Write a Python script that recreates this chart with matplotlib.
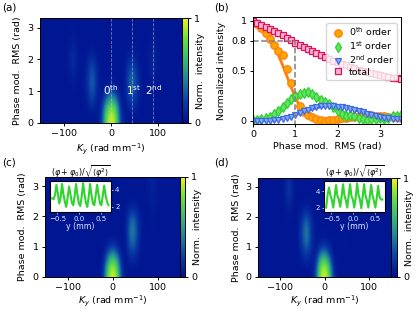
import numpy as np
import matplotlib
matplotlib.use("Agg")
import matplotlib.pyplot as plt
from matplotlib.colors import LinearSegmentedColormap

# ---------- data ----------
ky_step = 10
rms_step = 0.3

# rows: RMS 0 -> 3.3, columns: Ky -150 -> 150 (percent of max)
map_a = [
    [3,3,3,3,3,3, 3,3,3, 3, 3,3,3, 14, 82,100,90,20, 3, 3,3,3, 3, 3,3,3, 3,3,3,3,3],
    [3,3,3,3,3,3, 3,3,3, 3, 3,5,3, 12, 74,96,82,16, 3, 5,5,3, 3, 3,3,3, 3,3,3,3,3],
    [3,3,3,3,3,3, 3,3,3, 3, 6,18,6, 6, 52,76,60,9, 3, 16,14,4, 3, 3,3,3, 3,3,3,3,3],
    [3,3,3,3,3,3, 3,3,3, 3, 9,30,9, 3, 18,38,24,4, 3, 28,24,6, 3, 3,3,3, 3,3,3,3,3],
    [3,3,3,3,3,3, 3,6,3, 3, 11,38,11, 3, 4,8,5,3, 3, 36,30,7, 3, 3,5,3, 3,3,3,3,3],
    [3,3,3,3,3,3, 4,10,4, 3, 10,36,10, 3, 3,3,3,3, 3, 33,28,7, 3, 4,9,3, 3,3,3,3,3],
    [3,3,3,3,3,3, 5,14,5, 3, 8,27,8, 3, 3,3,3,3, 3, 22,18,5, 3, 5,12,4, 3,3,3,3,3],
    [3,3,3,3,3,3, 5,15,5, 3, 5,13,5, 3, 3,3,3,3, 3, 10,9,4, 3, 5,12,4, 3,3,3,3,3],
    [3,3,3,3,3,3, 4,11,4, 3, 3,5,3, 3, 3,3,3,3, 3, 5,5,3, 3, 4,9,3, 3,3,3,3,3],
    [3,3,3,3,3,3, 3,7,3, 3, 3,3,3, 3, 3,3,3,3, 3, 3,3,3, 3, 3,6,3, 3,3,3,3,3],
    [3,3,3,3,3,3, 3,4,3, 3, 3,3,3, 3, 3,3,3,3, 3, 3,3,3, 3, 3,4,3, 3,3,3,3,3],
    [3,3,3,3,3,3, 3,3,3, 3, 3,3,3, 3, 3,3,3,3, 3, 3,3,3, 3, 3,3,3, 3,3,3,3,3],
]
map_c = [
    [3,3,3,3,3,3, 3,3,3, 3, 3,3,3, 14, 82,100,88,18, 3, 3,3,3, 3, 3,3,3, 3,3,3,3,3],
    [3,3,3,3,3,3, 3,3,3, 3, 3,3,3, 10, 72,94,76,13, 3, 4,4,3, 3, 3,3,3, 3,3,3,3,3],
    [3,3,3,3,3,3, 3,3,3, 3, 3,3,3, 5, 46,70,52,7, 3, 12,11,4, 3, 3,3,3, 3,3,3,3,3],
    [3,3,3,3,3,3, 3,3,3, 3, 3,3,3, 3, 16,32,19,4, 3, 24,22,6, 3, 3,3,3, 3,3,3,3,3],
    [3,3,3,3,3,3, 3,4,3, 3, 3,3,3, 3, 5,8,5,3, 3, 36,32,8, 3, 3,3,3, 3,3,3,3,3],
    [3,3,3,3,3,3, 3,5,3, 3, 3,3,3, 3, 3,3,3,3, 3, 42,37,9, 3, 3,4,3, 3,3,3,3,3],
    [3,3,3,3,3,3, 3,5,3, 3, 3,3,3, 3, 3,3,3,3, 3, 38,34,8, 3, 3,5,3, 3,3,3,3,3],
    [3,3,3,3,3,3, 3,4,3, 3, 3,3,3, 3, 3,3,3,3, 3, 22,20,6, 3, 3,6,3, 3,3,3,3,3],
    [3,3,3,3,3,3, 3,3,3, 3, 3,3,3, 3, 3,3,3,3, 3, 7,7,3, 3, 4,8,4, 3,3,3,3,3],
    [3,3,3,3,3,3, 3,3,3, 3, 3,3,3, 3, 3,3,3,3, 3, 3,3,3, 3, 5,9,4, 3,3,3,3,3],
    [3,3,3,3,3,3, 3,3,3, 3, 3,3,3, 3, 3,3,3,3, 3, 3,3,3, 3, 5,10,4, 3,3,3,3,3],
    [3,3,3,3,3,3, 3,3,3, 3, 3,3,3, 3, 3,3,3,3, 3, 3,3,3, 3, 5,9,4, 3,3,3,3,3],
]
map_d = [
    [3,3,3,3,3,3, 3,3,3, 3, 3,3,3, 18, 88,100,82,14, 3, 3,3,3, 3, 3,3,3, 3,3,3,3,3],
    [3,3,3,3,3,3, 3,3,3, 3, 3,4,3, 14, 80,94,72,11, 3, 3,3,3, 3, 3,3,3, 3,3,3,3,3],
    [3,3,3,3,3,3, 3,3,3, 3, 8,14,7, 7, 54,72,42,6, 3, 3,3,3, 3, 3,3,3, 3,3,3,3,3],
    [3,3,3,3,3,3, 3,3,3, 3, 14,28,11, 3, 22,32,15,3, 3, 3,4,3, 3, 3,3,3, 3,3,3,3,3],
    [3,3,3,3,3,3, 3,3,3, 3, 22,42,15, 3, 6,9,5,3, 3, 3,4,3, 3, 3,3,3, 3,3,3,3,3],
    [3,3,3,3,3,3, 3,3,3, 3, 24,46,16, 3, 3,4,3,3, 3, 3,4,3, 3, 3,3,3, 3,3,3,3,3],
    [3,3,3,3,3,3, 3,4,3, 3, 20,38,13, 3, 3,3,3,3, 3, 3,3,3, 3, 3,3,3, 3,3,3,3,3],
    [3,3,3,3,3,3, 3,6,3, 3, 11,22,8, 3, 3,3,3,3, 3, 3,3,3, 3, 3,3,3, 3,3,3,3,3],
    [3,3,3,3,3,3, 4,11,4, 3, 4,7,4, 3, 3,3,3,3, 3, 3,3,3, 3, 3,3,3, 3,3,3,3,3],
    [3,3,3,3,3,3, 5,18,5, 3, 3,3,3, 3, 3,3,3,3, 3, 3,3,3, 3, 3,3,3, 3,3,3,3,3],
    [3,3,3,3,3,3, 5,20,5, 3, 3,3,3, 3, 3,3,3,3, 3, 3,3,3, 3, 3,3,3, 3,3,3,3,3],
    [3,3,3,3,3,3, 4,15,4, 3, 3,3,3, 3, 3,3,3,3, 3, 3,3,3, 3, 3,3,3, 3,3,3,3,3],
]

# panel (b), RMS from 0 to 3.5 in steps of 0.1
rms = [i / 10 for i in range(36)]
order0 = [1.0,.97,.93,.88,.82,.76,.70,.66,.52,.38,.25,.15,.09,.06,.04,.02,.01,.005,.01,.015,.02,.03,.035,.04,.045,.05,.05,.055,.06,.055,.05,.05,.045,.04,.04,.035]
order1 = [.01,.015,.02,.03,.045,.07,.10,.14,.18,.22,.25,.27,.28,.29,.27,.24,.21,.19,.17,.14,.10,.07,.05,.06,.05,.03,.02,.015,.02,.025,.03,.02,.03,.05,.05,.06]
order2 = [0,0,0,.005,.005,.01,.015,.02,.03,.045,.06,.08,.10,.11,.13,.14,.15,.15,.155,.15,.145,.14,.13,.125,.115,.10,.09,.075,.06,.05,.04,.035,.03,.025,.02,.02]
total = [1.0,.98,.96,.94,.92,.90,.88,.86,.83,.81,.78,.76,.74,.72,.70,.68,.66,.64,.62,.605,.59,.575,.56,.545,.53,.515,.50,.49,.48,.47,.46,.45,.445,.435,.43,.42]

fit0 = [1.0,.98,.95,.90,.84,.75,.66,.56,.45,.34,.24,.15,.09,.05,.025,.01,.004,.003,.007,.014,.022,.03,.037,.043,.048,.052,.054,.055,.055,.054,.052,.05,.047,.044,.04,.037]
fit1 = [0,.003,.01,.02,.04,.07,.10,.14,.18,.22,.25,.265,.27,.27,.26,.245,.225,.20,.175,.15,.125,.10,.08,.06,.045,.033,.022,.015,.01,.01,.012,.017,.023,.03,.037,.045]
fit2 = [0,0,.001,.002,.004,.008,.015,.025,.035,.047,.06,.075,.09,.105,.12,.13,.14,.147,.15,.152,.15,.145,.135,.125,.11,.097,.085,.072,.06,.05,.04,.032,.026,.02,.016,.013]

yticks_b = [0, 0.5, 0.8, 1]
yticklabels_b = ["0", "0.5", "0.8", "1"]

# insets, y from -0.62 in steps of 0.032 mm
inset_y = [-0.62 + 0.032 * i for i in range(41)]
inset_c = [3.0,2.9,3.4,4.6,3.6,2.4,3.1,4.7,3.5,2.6,2.0,3.1,4.4,3.5,2.5,2.2,3.3,4.7,3.4,2.4,2.1,3.2,4.8,3.5,2.5,2.0,3.2,4.7,3.4,2.4,2.2,3.4,4.6,3.5,2.4,2.2,3.3,4.5,3.4,2.6,2.2]
inset_d = [2.0,3.6,4.5,3.5,3.0,2.0,3.3,4.8,3.4,3.0,2.1,3.4,4.9,3.5,2.9,2.0,3.5,4.9,3.4,3.0,2.0,3.2,5.0,3.6,3.0,1.9,3.4,4.9,3.5,2.9,2.0,3.3,4.8,3.5,2.8,2.0,3.2,4.7,3.3,3.0,3.0]

# ---------- figure ----------
W, H = 416, 309
fig = plt.figure(figsize=(W / 100, H / 100), dpi=100)
fs = 6.8

cmap = LinearSegmentedColormap.from_list(
    "norm_int", ["#00108f", "#0a3ca8", "#1f7f9e", "#38b878", "#68e040", "#f2f020"])


def box(l, t, r, b):
    return [l / W, 1 - b / H, (r - l) / W, (b - t) / H]


def heat(data, main_box, cbar_box, xpad=2, ypad=4):
    ax = fig.add_axes(box(*main_box))
    arr = np.array(data) / 100
    n_rows, n_cols = arr.shape
    half = ky_step * n_cols / 2
    im = ax.imshow(arr, origin="lower", aspect="auto", cmap=cmap, vmin=0, vmax=1,
                   interpolation="bicubic",
                   extent=[-half, half, -rms_step / 2, rms_step * (n_rows - 0.5)])
    ax.set_xlim(-150, 150)
    ax.set_ylim(0, 3.3)
    ax.set_xticks([-100, 0, 100])
    ax.set_yticks([0, 1, 2, 3])
    ax.tick_params(labelsize=fs, length=2.5, width=0.7, pad=2)
    ax.set_xlabel(r"$K_y$ (rad mm$^{-1}$)", fontsize=fs, labelpad=xpad)
    ax.set_ylabel("Phase mod.  RMS (rad)", fontsize=fs, labelpad=ypad)
    cax = fig.add_axes(box(*cbar_box))
    cb = fig.colorbar(im, cax=cax)
    cb.set_ticks([0, 1])
    cb.set_ticklabels(["0", "1"])
    cax.tick_params(labelsize=fs, length=2.5, width=0.7, pad=2)
    cb.set_label("Norm.  intensity", fontsize=fs, labelpad=-3)
    for a in [ax, cax]:
        for s in a.spines.values():
            s.set_linewidth(0.7)
    return ax


def inset(box_px, yy, ticks_right, ylim):
    ins = fig.add_axes(box(*box_px))
    ins.plot(inset_y, yy, color="#2fd42f", lw=1.5)
    ins.set_xlim(-0.67, 0.72)
    ins.set_ylim(*ylim)
    ins.set_xticks([-0.5, 0, 0.5])
    ins.set_xticklabels(["\u22120.5", "0.0", "0.5"])
    ins.set_yticks([2, 4])
    if ticks_right:
        ins.yaxis.tick_right()
    ins.tick_params(labelsize=5, length=1.5, width=0.5, pad=1.5,
                    colors="white", labelcolor="#dfe6ff")
    ins.set_xlabel("y (mm)", fontsize=5.6, color="#dfe6ff", labelpad=0)
    ins.set_title(r"$(\varphi+\varphi_0)/\sqrt{\langle\varphi^2\rangle}$", fontsize=5.8, pad=2)
    for s in ins.spines.values():
        s.set_linewidth(0.8)
    return ins


# (a)
ax_a = heat(map_a, (40, 18, 182, 123), (182, 18, 188, 123))
for k in [0, 45, 88]:
    ax_a.axvline(k, color="#c8c8d8", lw=0.6, ls="--", alpha=0.55)
for k, s in [(0, r"0$^{\mathrm{th}}$"), (47, r"1$^{\mathrm{st}}$"), (91, r"2$^{\mathrm{nd}}$")]:
    ax_a.text(k, 1.04, s, color="white", fontsize=7.5, ha="center", va="center")

# (b)
ax_b = fig.add_axes(box(253, 17, 401, 124))
ax_b.plot(rms, fit0, color="#ff7f0e", lw=2)
ax_b.plot(rms, fit1, color="#3fd23f", lw=1.8)
ax_b.plot(rms, fit2, color="#4169e1", lw=1.8)
ax_b.plot(rms, total, color="#dc143c", lw=1)
ax_b.plot(rms, order0, ls="none", marker="o", ms=5.4, mfc="#ffa500", mec="#ff7f0e", mew=0.9, label=r"0$^{\mathrm{th}}$ order")
ax_b.plot(rms, order1, ls="none", marker="d", ms=5.6, mfc="#66e066", mec="#2fd22f", mew=0.9, label=r"1$^{\mathrm{st}}$ order")
ax_b.plot(rms, order2, ls="none", marker="v", ms=4.8, mfc="#7fb0ff", mec="#4169e1", mew=0.9, label=r"2$^{\mathrm{nd}}$ order")
ax_b.plot(rms, total, ls="none", marker="s", ms=4.6, mfc="#ffb6d0", mec="#e0105a", mew=0.9, label="total")
ax_b.plot([0, 1, 1], [0.8, 0.8, -0.03], color="gray", ls="--", lw=1.1)
ax_b.set_xlim(0, 3.5)
ax_b.set_ylim(-0.03, 1.04)
ax_b.set_xticks([0, 1, 2, 3])
ax_b.set_yticks(yticks_b)
ax_b.set_yticklabels(yticklabels_b)
ax_b.tick_params(labelsize=fs, length=2.5, width=0.7, pad=2)
ax_b.set_xlabel("Phase mod.  RMS (rad)", fontsize=fs, labelpad=2)
ax_b.set_ylabel("Normalized intensity", fontsize=fs, labelpad=4)
for s in ax_b.spines.values():
    s.set_linewidth(0.7)
ax_b.legend(fontsize=fs, numpoints=1, loc="upper right",
            bbox_to_anchor=(0.975, 0.945), borderaxespad=0,
            framealpha=0.8, labelspacing=0.15, handletextpad=0.3,
            handlelength=1.8, borderpad=0.3)

# (c)
heat(map_c, (45, 177, 180, 277), (180, 177, 185, 277), xpad=0.5)
inset((50, 181, 111, 212), inset_c, True, (1.4, 5.05))

# (d)
heat(map_d, (258, 178, 391, 277), (391, 178, 397, 277), xpad=0.5, ypad=3)
inset((324, 181, 385, 212), inset_d, False, (1.45, 5.3))

for s, x, y in [("(a)", 2, 8), ("(b)", 214, 8), ("(c)", 2, 163), ("(d)", 214, 163)]:
    fig.text(x / W, 1 - y / H, s, fontsize=7.5, va="center")

fig.savefig("out.png", dpi=100)
